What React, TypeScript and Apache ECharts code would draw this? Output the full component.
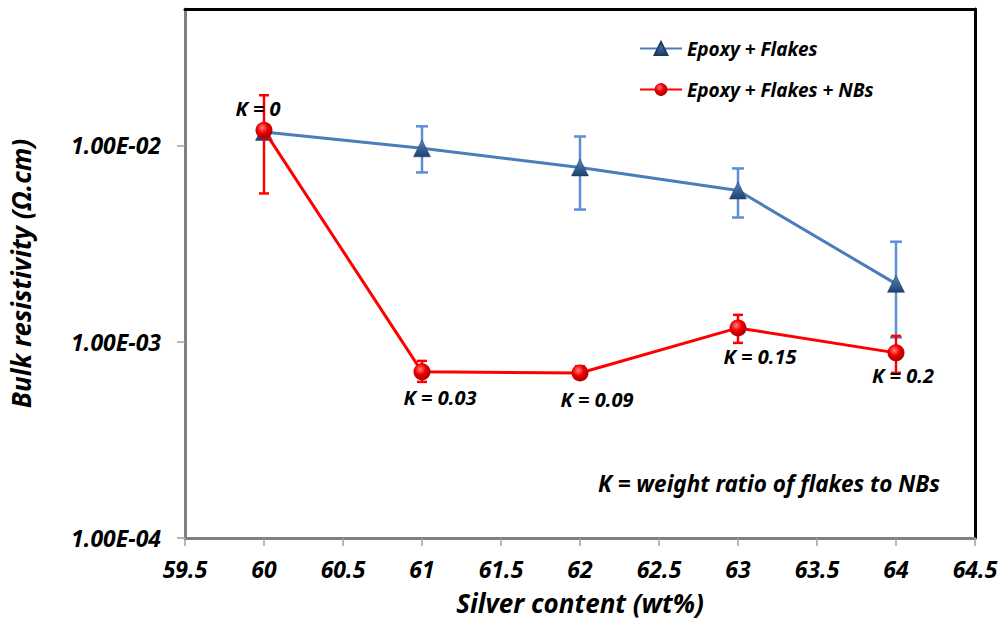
import React, { useEffect, useRef } from "react";
import * as echarts from "echarts";

const silver = [60, 61, 62, 63, 64];
const flakes = [0.0117, 0.00966, 0.00772, 0.00589, 0.00197];
const flakesErrLow = [0.0117, 0.00728, 0.00471, 0.00429, 0.00105];
const flakesErrHigh = [0.0117, 0.0125, 0.0111, 0.00763, 0.00323];
const nbs = [0.01193, 0.000702, 0.000693, 0.001175, 0.000877];
const nbsErrLow = [0.00569, 0.000624, 0.00065, 0.000986, 0.000694];
const nbsErrHigh = [0.018, 0.000798, 0.00075, 0.00137, 0.00107];
const kLabels = ["K = 0", "K = 0.03", "K = 0.09", "K = 0.15", "K = 0.2"];
const kPos = ["top", "bottom", "bottom", "bottom", "bottom"];
const kOffset = [[-6, 2], [18, 2], [17, 3], [22, 5], [7, -1]];

const FONT = "Noto Sans";

function fmtY(v: number): string {
  const e = Math.round(Math.log10(v));
  if (Math.abs(Math.log10(v) - e) > 1e-6) return "";
  const sign = e < 0 ? "-" : "+";
  const a = Math.abs(e);
  return "1.00E" + sign + (a < 10 ? "0" + a : String(a));
}

function errorBar(color: string, capW: number, lw: number) {
  return (params: any, api: any) => {
    const x = api.value(0);
    const lo = api.value(1);
    const hi = api.value(2);
    const p1 = api.coord([x, hi]);
    const p2 = api.coord([x, lo]);
    const h = capW / 2;
    const style = { stroke: color, lineWidth: lw };
    return {
      type: "group",
      children: [
        { type: "line", shape: { x1: p1[0], y1: p1[1], x2: p2[0], y2: p2[1] }, style },
        { type: "line", shape: { x1: p1[0] - h, y1: p1[1], x2: p1[0] + h, y2: p1[1] }, style },
        { type: "line", shape: { x1: p2[0] - h, y1: p2[1], x2: p2[0] + h, y2: p2[1] }, style },
      ],
    };
  };
}

export default function App() {
  const ref = useRef<HTMLDivElement>(null);
  useEffect(() => {
    if (!ref.current) return;
    const chart = echarts.init(ref.current, null, { renderer: "svg" });
    const textBase = { fontFamily: FONT, fontWeight: "bold", fontStyle: "italic", color: "#000" };
    const blueErr = silver.map((x, i) => [x, flakesErrLow[i], flakesErrHigh[i]]).filter((d, i) => i > 0);
    const redErr = silver.map((x, i) => [x, nbsErrLow[i], nbsErrHigh[i]]);
    chart.setOption({
      animation: false,
      backgroundColor: "#fff",
      grid: { left: 185, right: 26, top: 9, bottom: 88 },
      legend: {
        orient: "vertical",
        left: 634,
        top: 34,
        itemGap: 22,
        itemWidth: 42,
        itemHeight: 16,
        textStyle: { ...textBase, fontSize: 19 },
        data: ["Epoxy + Flakes", "Epoxy + Flakes + NBs"],
      },
      xAxis: [
        {
          type: "value",
          min: 59.5,
          max: 64.5,
          interval: 0.5,
          name: "Silver content (wt%)",
          nameLocation: "middle",
          nameGap: 52,
          nameTextStyle: { ...textBase, fontSize: 26 },
          axisLine: { show: true, lineStyle: { color: "#808080", width: 3 } },
          axisTick: { show: true, inside: false, length: 8, lineStyle: { color: "#a0a0a0", width: 1.5 } },
          axisLabel: { ...textBase, fontSize: 23, margin: 19, formatter: (v: number) => String(v) },
          splitLine: { show: false },
        },
        {
          type: "value",
          position: "top",
          min: 59.5,
          max: 64.5,
          axisLine: { show: true, onZero: false, lineStyle: { color: "#000", width: 3 } },
          axisTick: { show: false },
          axisLabel: { show: false },
          splitLine: { show: false },
        },
      ],
      yAxis: [
        {
          type: "log",
          logBase: 10,
          min: 0.0001,
          max: 0.0495,
          name: "Bulk resistivity (Ω.cm)",
          nameLocation: "middle",
          nameGap: 151,
          nameRotate: 90,
          nameTextStyle: { ...textBase, fontSize: 26 },
          axisLine: { show: true, lineStyle: { color: "#808080", width: 3 } },
          axisTick: { show: true, inside: false, length: 8, lineStyle: { color: "#a0a0a0", width: 1.5 } },
          axisLabel: { ...textBase, fontSize: 23, margin: 24, showMaxLabel: false, formatter: (v: number) => fmtY(v) },
          splitLine: { show: false },
          minorTick: { show: false },
        },
        {
          type: "value",
          position: "right",
          min: 0,
          max: 1,
          axisLine: { show: true, onZero: false, lineStyle: { color: "#000", width: 3 } },
          axisTick: { show: false },
          axisLabel: { show: false },
          splitLine: { show: false },
        },
      ],
      graphic: [
        {
          type: "text",
          left: 598,
          top: 472,
          style: { text: "K = weight ratio of flakes to NBs", font: `italic bold 22.5px "${FONT}"`, fill: "#000" },
        },
      ],
      series: [
        {
          type: "custom",
          name: "blueErr",
          xAxisIndex: 0,
          yAxisIndex: 0,
          renderItem: errorBar("#5b8fd6", 12, 2.5),
          encode: { x: 0, y: [1, 2] },
          data: blueErr,
          z: 1,
        },
        {
          type: "line",
          name: "Epoxy + Flakes",
          xAxisIndex: 0,
          yAxisIndex: 0,
          data: silver.map((x, i) => [x, flakes[i]]),
          symbol: "triangle",
          symbolSize: 17,
          lineStyle: { color: "#4a7ebb", width: 3 },
          itemStyle: {
            color: {
              type: "linear", x: 0, y: 0, x2: 0, y2: 1,
              colorStops: [{ offset: 0, color: "#5585c0" }, { offset: 1, color: "#1f416e" }],
            },
            borderColor: "#1f3a60",
            borderWidth: 0.5,
          },
          z: 2,
        },
        {
          type: "custom",
          name: "redErr",
          xAxisIndex: 0,
          yAxisIndex: 0,
          renderItem: errorBar("#ff0000", 10, 2.5),
          encode: { x: 0, y: [1, 2] },
          data: redErr,
          z: 3,
        },
        {
          type: "line",
          name: "Epoxy + Flakes + NBs",
          xAxisIndex: 0,
          yAxisIndex: 0,
          data: silver.map((x, i) => ({
            value: [x, nbs[i]],
            label: {
              show: true,
              formatter: kLabels[i],
              position: kPos[i],
              distance: 5,
              offset: kOffset[i],
              ...textBase,
              fontSize: 20,
            },
          })),
          symbol: "circle",
          symbolSize: 17,
          lineStyle: { color: "#ff0000", width: 3 },
          itemStyle: {
            color: {
              type: "radial", x: 0.4, y: 0.35, r: 0.7,
              colorStops: [
                { offset: 0, color: "#ff8080" },
                { offset: 0.45, color: "#ee0000" },
                { offset: 1, color: "#a00000" },
              ],
            },
          },
          z: 4,
        },
      ],
    });
    return () => chart.dispose();
  }, []);
  return <div ref={ref} style={{ width: 1001, height: 626, position: "absolute", left: 0, top: 0 }} />;
}
